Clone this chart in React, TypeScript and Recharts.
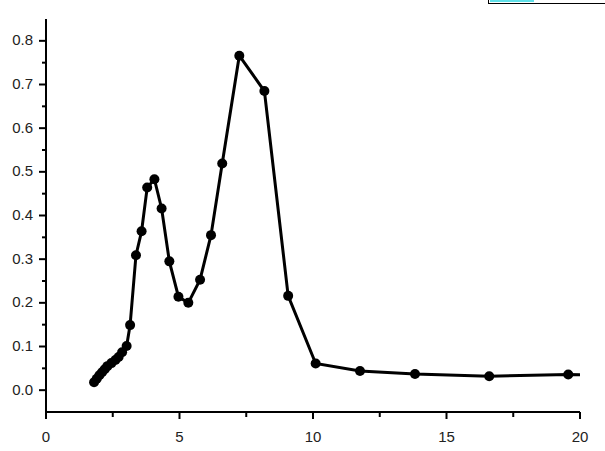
import React from 'react';
import { LineChart, Line, XAxis, YAxis } from 'recharts';

const xValues = [
  1.8, 1.9, 2.0, 2.1, 2.2, 2.3, 2.45, 2.6, 2.72, 2.85, 3.02, 3.15, 3.37, 3.58, 3.79, 4.06,
  4.33, 4.62, 4.96, 5.33, 5.77, 6.18, 6.6, 7.24, 8.18, 9.07, 10.1, 11.76, 13.82, 16.6, 19.56, 21.5,
];
const yValues = [
  0.018, 0.026, 0.034, 0.041, 0.048, 0.055, 0.062, 0.069, 0.076, 0.087, 0.101, 0.149, 0.309,
  0.364, 0.464, 0.483, 0.416, 0.295, 0.214, 0.2, 0.253, 0.355, 0.519, 0.766, 0.685, 0.216,
  0.061, 0.044, 0.037, 0.032, 0.036, 0.033,
];

const xMajorTicks = [0, 5, 10, 15, 20];
const xMinorTicks = [2.5, 7.5, 12.5, 17.5];
const yMajorTicks = [0, 0.1, 0.2, 0.3, 0.4, 0.5, 0.6, 0.7, 0.8];
const yTickLabels = ['0.0', '0.1', '0.2', '0.3', '0.4', '0.5', '0.6', '0.7', '0.8'];
const yMinorTicks = [0.05, 0.15, 0.25, 0.35, 0.45, 0.55, 0.65, 0.75];

const data = xValues.map((x, i) => ({ x, y: yValues[i] }));

const font = '"Liberation Sans", Arial, sans-serif';

function XTick(props: any) {
  const { x, y, payload } = props;
  const idx = xMajorTicks.indexOf(payload.value);
  return (
    <g>
      <line x1={x} x2={x} y1={y} y2={y + (idx >= 0 ? 7 : 5)} stroke="#000" strokeWidth={2} />
      {idx >= 0 && (
        <text x={x} y={y + 30} textAnchor="middle" fontFamily={font} fontSize={15} fill="#222">
          {xMajorTicks[idx]}
        </text>
      )}
    </g>
  );
}

function YTick(props: any) {
  const { x, y, payload } = props;
  const idx = yMajorTicks.indexOf(payload.value);
  return (
    <g>
      <line x1={x} x2={x - (idx >= 0 ? 7 : 4)} y1={y} y2={y} stroke="#000" strokeWidth={2} />
      {idx >= 0 && (
        <text x={x - 13} y={y + 4.5} textAnchor="end" fontFamily={font} fontSize={15} fill="#222">
          {yTickLabels[idx]}
        </text>
      )}
    </g>
  );
}

export default function App() {
  return (
    <div style={{ position: 'absolute', left: 0, top: 0, width: 605, height: 451, background: '#fff' }}>
      {/* edge of a cropped legend box */}
      <div style={{ position: 'absolute', left: 488, top: -20, width: 130, height: 22, border: '1px solid #000' }} />
      <div style={{ position: 'absolute', left: 490, top: 0, width: 44, height: 2, background: '#5fe0e8' }} />
      <LineChart width={605} height={451} data={data} margin={{ top: 19, right: 25, left: 0, bottom: 0 }}>
        <XAxis
          dataKey="x"
          type="number"
          domain={[0, 20]}
          allowDataOverflow
          ticks={[...xMajorTicks, ...xMinorTicks]}
          interval={0}
          height={39}
          tickSize={0}
          tickMargin={0}
          axisLine={{ stroke: '#000', strokeWidth: 2 }}
          tickLine={false}
          tick={<XTick />}
        />
        <YAxis
          dataKey="y"
          type="number"
          domain={[-0.05, 0.85]}
          allowDataOverflow
          ticks={[...yMajorTicks, ...yMinorTicks]}
          interval={0}
          width={46}
          tickSize={0}
          tickMargin={0}
          axisLine={{ stroke: '#000', strokeWidth: 2 }}
          tickLine={false}
          tick={<YTick />}
        />
        <Line
          type="linear"
          dataKey="y"
          stroke="#000"
          strokeWidth={3}
          dot={{ r: 5, fill: '#000', stroke: 'none' }}
          isAnimationActive={false}
        />
      </LineChart>
    </div>
  );
}
